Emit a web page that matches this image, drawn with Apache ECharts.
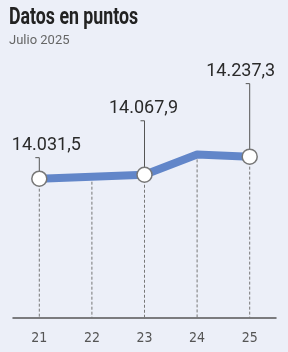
<!DOCTYPE html>
<html>
<head>
<meta charset="utf-8">
<script src="https://cdn.jsdelivr.net/npm/echarts@6/dist/echarts.min.js"></script>
<style>
  html, body { margin: 0; padding: 0; background: #eceff8; }
  #chart { width: 288px; height: 352px; }
</style>
</head>
<body>
<div id="chart"></div>
<script>
// dias de julio 2025 y cierre del indice
const dias = ['21', '22', '23', '24', '25'];
const puntos = [14031.5, 14050, 14067.9, 14258, 14237.3];
// puntos con etiqueta de valor
const destacados = [0, 2, 4];

const yMin = 12730;
const yMax = 15140;
const NARROW = "'Liberation Sans Narrow', 'DejaVu Sans Condensed', Roboto, sans-serif";
const TEXT = "Roboto, 'Noto Sans', sans-serif";

// dx, alto del conector (px) por punto destacado
const leader = { 0: [7, 21], 2: [-1, 54], 4: [-9, 73] };

function fmt(v) {
	const [ent, dec] = v.toFixed(1).split('.');
	return ent.replace(/\B(?=(\d{3})+(?!\d))/g, '.') + ',' + dec;
}

const chart = echarts.init(document.getElementById('chart'), null, { renderer: 'canvas' });

chart.setOption({
	backgroundColor: '#eceff8',
	animation: false,
	// titulo condensado a mano: no hay fuente narrow instalada
	graphic: [
		{
			type: 'text',
			x: 9,
			y: 18,
			scaleX: 0.74,
			style: {
				text: 'Datos en puntos',
				fontFamily: TEXT,
				fontSize: 24,
				fontWeight: 'bold',
				fill: '#222',
				verticalAlign: 'middle'
			}
		},
		{
			type: 'text',
			x: 9,
			y: 41,
			style: {
				text: 'Julio 2025',
				fontFamily: TEXT,
				fontSize: 13,
				fill: '#666',
				verticalAlign: 'middle'
			}
		}
	],
	grid: { left: 13, right: 12, top: 60, bottom: 34 },
	xAxis: {
		type: 'category',
		data: dias,
		boundaryGap: true,
		axisLine: { lineStyle: { color: '#555', width: 1.5 } },
		axisTick: { show: false },
		axisLabel: { color: '#555', fontSize: 14, margin: 13, fontFamily: NARROW }
	},
	yAxis: {
		type: 'value',
		min: yMin,
		max: yMax,
		show: false,
		splitLine: { show: false }
	},
	series: [
		{
			// lineas punteadas hasta el eje
			type: 'custom',
			z: 1,
			silent: true,
			data: puntos.map((v, i) => [i, v]),
			encode: { x: 0, y: 1 },
			renderItem(params, api) {
				const i = api.value(0);
				const top = api.coord([i, api.value(1)]);
				const bot = api.coord([i, yMin]);
				return {
					type: 'line',
					shape: { x1: top[0], y1: top[1], x2: bot[0], y2: bot[1] },
					style: { stroke: '#777', lineWidth: 1, lineDash: [3, 2] }
				};
			}
		},
		{
			type: 'line',
			z: 3,
			data: puntos.map((v, i) => destacados.includes(i)
				? { value: v, symbol: 'circle', symbolSize: 15 }
				: { value: v, symbol: 'none' }),
			lineStyle: { color: '#6286c9', width: 8, join: 'round' },
			itemStyle: { color: '#fff', borderColor: '#777', borderWidth: 1.5 },
			emphasis: { disabled: true }
		},
		{
			// conectores y etiquetas de valor
			type: 'custom',
			z: 2,
			silent: true,
			data: destacados.map(i => [i, puntos[i]]),
			encode: { x: 0, y: 1 },
			renderItem(params, api) {
				const i = api.value(0);
				const p = api.coord([i, api.value(1)]);
				const [dx, h] = leader[i];
				const yt = p[1] - h;
				return {
					type: 'group',
					children: [
						{
							type: 'polyline',
							shape: { points: [[p[0] - 4, yt], [p[0], yt], [p[0], p[1] - 6]] },
							style: { stroke: '#555', lineWidth: 1, fill: null }
						},
						{
							type: 'text',
							style: {
								x: p[0] + dx,
								y: yt - 12,
								text: fmt(api.value(1)),
								align: 'center',
								verticalAlign: 'middle',
								fontFamily: TEXT,
								fontSize: 18,
								fill: '#2a2a2a'
							}
						}
					]
				};
			}
		}
	]
});
</script>
</body>
</html>
